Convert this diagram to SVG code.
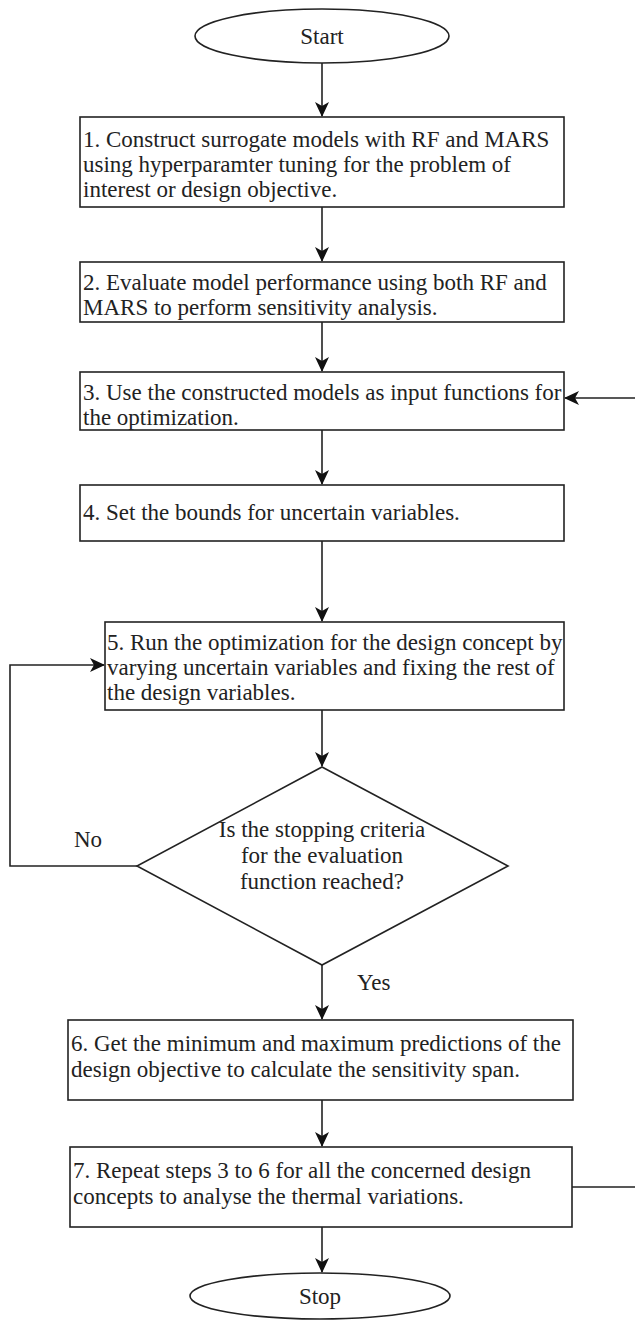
<svg xmlns="http://www.w3.org/2000/svg" width="635" height="1321" viewBox="0 0 635 1321">
<style>
.n{fill:#fff;stroke:#222;stroke-width:1.6}
.t{font-family:'Liberation Serif','Times New Roman',Times,serif;font-size:23px;fill:#222}
.c{fill:none;stroke:#222;stroke-width:1.6}
</style>
<defs>
<marker id="ah" markerUnits="userSpaceOnUse" markerWidth="16" markerHeight="14" refX="14" refY="7" orient="auto">
<path d="M0,0 L15,7 L0,14 L4,7 z" fill="#111"/>
</marker>
</defs>
<rect width="635" height="1321" fill="#fff"/>
<g id="connectors">
<path class="c" d="M322,63 V116" marker-end="url(#ah)"/>
<path class="c" d="M322,207 V261" marker-end="url(#ah)"/>
<path class="c" d="M322,322 V371" marker-end="url(#ah)"/>
<path class="c" d="M322,430 V484" marker-end="url(#ah)"/>
<path class="c" d="M322,541 V621" marker-end="url(#ah)"/>
<path class="c" d="M322,710 V766" marker-end="url(#ah)"/>
<path class="c" d="M137,866 H10 V665 H104" marker-end="url(#ah)"/>
<path class="c" d="M322,965 V1019" marker-end="url(#ah)"/>
<path class="c" d="M322,1100 V1146" marker-end="url(#ah)"/>
<path class="c" d="M322,1227 V1272" marker-end="url(#ah)"/>
<path class="c" d="M572,1187 H640 V398 H565" marker-end="url(#ah)"/>
<text class="t" x="74" y="847">No</text>
<text class="t" x="357" y="990">Yes</text>
</g>
<g id="start">
<ellipse class="n" cx="322" cy="36" rx="127" ry="27"/>
<text class="t" x="322" y="44" text-anchor="middle">Start</text>
</g>
<g id="step1">
<rect class="n" x="80" y="117" width="484" height="90"/>
<text class="t" x="83" y="147">1. Construct surrogate models with RF and MARS</text>
<text class="t" x="83" y="172">using hyperparamter tuning for the problem of</text>
<text class="t" x="83" y="197">interest or design objective.</text>
</g>
<g id="step2">
<rect class="n" x="80" y="262" width="484" height="60"/>
<text class="t" x="83" y="290">2. Evaluate model performance using both RF and</text>
<text class="t" x="83" y="315">MARS to perform sensitivity analysis.</text>
</g>
<g id="step3">
<rect class="n" x="80" y="372" width="484" height="58"/>
<text class="t" x="83" y="400">3. Use the constructed models as input functions for</text>
<text class="t" x="83" y="425">the optimization.</text>
</g>
<g id="step4">
<rect class="n" x="80" y="485" width="484" height="56"/>
<text class="t" x="83" y="520">4. Set the bounds for uncertain variables.</text>
</g>
<g id="step5">
<rect class="n" x="105" y="622" width="459" height="88"/>
<text class="t" x="107" y="650">5. Run the optimization for the design concept by</text>
<text class="t" x="107" y="675">varying uncertain variables and fixing the rest of</text>
<text class="t" x="107" y="700">the design variables.</text>
</g>
<g id="decision">
<path class="n" d="M322,767 L508,866 L322,965 L137,866 Z"/>
<text class="t" x="322" y="837" text-anchor="middle">Is the stopping criteria</text>
<text class="t" x="322" y="863" text-anchor="middle">for the evaluation</text>
<text class="t" x="322" y="889" text-anchor="middle">function reached?</text>
</g>
<g id="step6">
<rect class="n" x="68" y="1020" width="505" height="80"/>
<text class="t" x="71" y="1051">6. Get the minimum and maximum predictions of the</text>
<text class="t" x="71" y="1077">design objective to calculate the sensitivity span.</text>
</g>
<g id="step7">
<rect class="n" x="70" y="1147" width="502" height="80"/>
<text class="t" x="73" y="1178">7. Repeat steps 3 to 6 for all the concerned design</text>
<text class="t" x="73" y="1204">concepts to analyse the thermal variations.</text>
</g>
<g id="stop">
<ellipse class="n" cx="320" cy="1296" rx="130" ry="23"/>
<text class="t" x="320" y="1304" text-anchor="middle">Stop</text>
</g>
</svg>
